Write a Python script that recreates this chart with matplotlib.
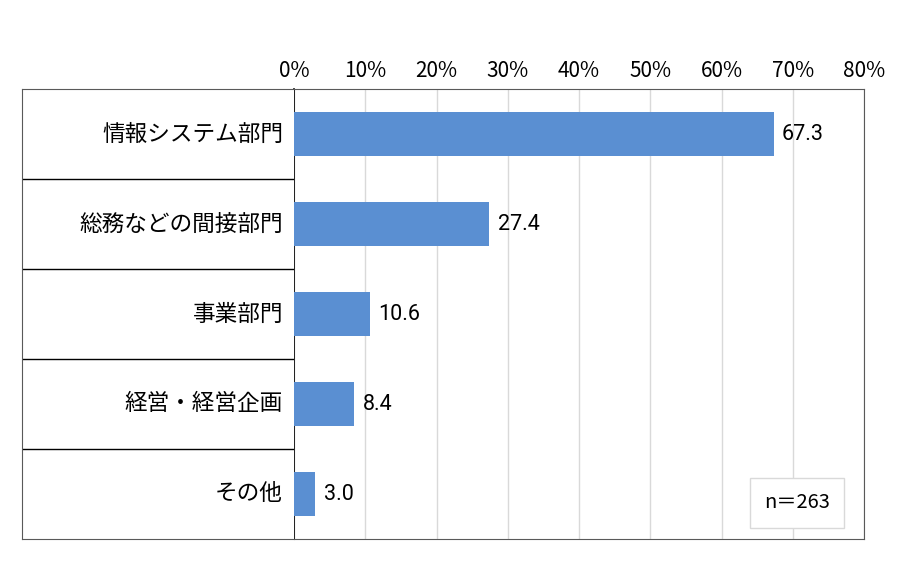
import numpy as np
import matplotlib.pyplot as plt

plt.rcParams['font.family'] = ['Noto Sans CJK JP', 'DejaVu Sans']

categories = ['情報システム部門', '総務などの間接部門', '事業部門', '経営・経営企画', 'その他']
values = [67.3, 27.4, 10.6, 8.4, 3.0]
ticks = [0, 10, 20, 30, 40, 50, 60, 70, 80]
n_label = 'n＝263'

W, H = 900, 562
fig = plt.figure(figsize=(9, 5.62), dpi=100)

# plot area
ax = fig.add_axes([294 / W, 1 - 539 / H, (864 - 294) / W, (539 - 89) / H])
y = np.arange(len(categories))
ax.barh(y, values, height=0.48, color='#5A8FD2', zorder=3)
ax.set_xlim(0, 80)
ax.set_ylim(len(categories) - 0.5, -0.5)
ax.set_xticks(ticks)
ax.set_xticklabels([f'{t}%' for t in ticks], fontsize=15)
ax.xaxis.tick_top()
ax.tick_params(axis='x', length=0, pad=5)
ax.set_yticks([])
ax.grid(axis='x', color='#d9d9d9', linewidth=1, zorder=0)
for s in ['top', 'right', 'bottom']:
    ax.spines[s].set_color('#595959')
ax.spines['left'].set_color('black')
ax.spines['left'].set_linewidth(1.2)

for yi, v in zip(y, values):
    ax.text(v + 1.2, yi, f'{v:.1f}', va='center', ha='left', fontsize=15.5,
            family=['Roboto', 'DejaVu Sans'])

ax.text(0.882, 0.08, n_label, transform=ax.transAxes, ha='center', va='center',
        fontsize=14.5, family=['Noto Sans CJK JP'],
        bbox=dict(boxstyle='square,pad=0.7', fc='white', ec='#d9d9d9'), zorder=5)

# label column
lab = fig.add_axes([22 / W, 1 - 539 / H, (294 - 22) / W, (539 - 89) / H])
lab.set_xlim(0, 1)
lab.set_ylim(len(categories), 0)
lab.set_xticks([])
lab.set_yticks([])
for s in lab.spines.values():
    s.set_color('#595959')
lab.spines['right'].set_visible(False)
for k in range(1, len(categories)):
    lab.axhline(k, color='black', linewidth=1)
for i, c in enumerate(categories):
    lab.text((283 - 22) / (294 - 22), i + 0.5, c, ha='right', va='center', fontsize=16.3)

fig.savefig('out.png', dpi=100)
